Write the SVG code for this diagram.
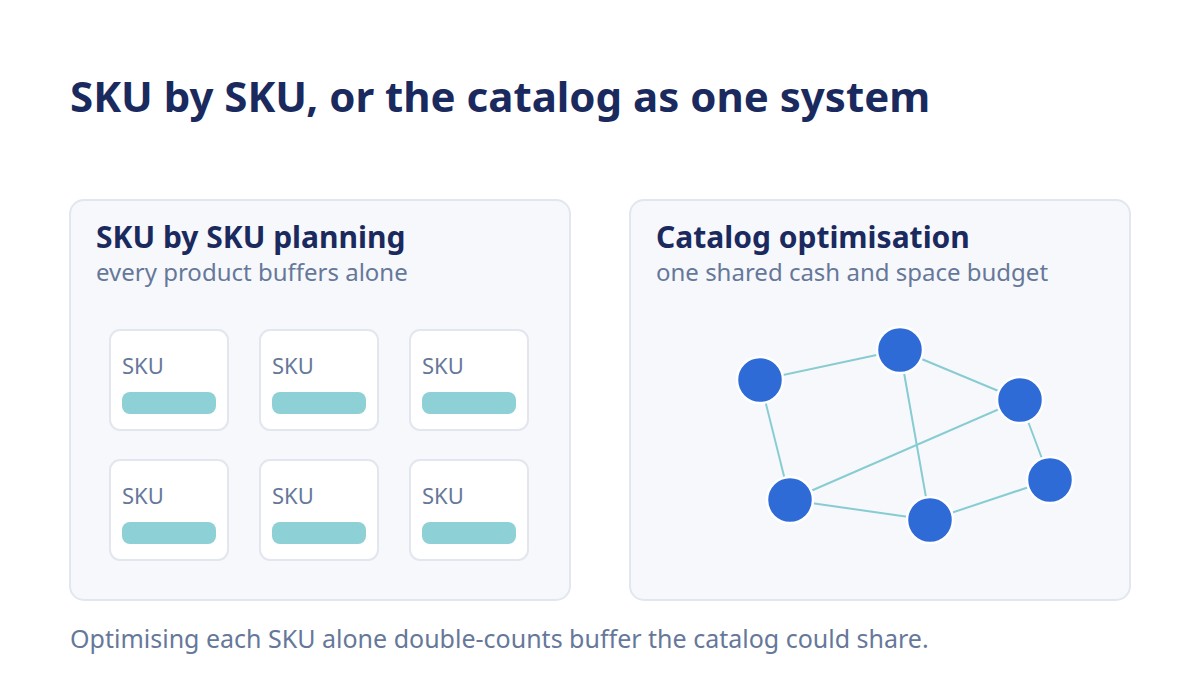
<svg xmlns="http://www.w3.org/2000/svg" width="1200" height="700" viewBox="0 0 1200 700">
<style>
.title{font-family:"Noto Sans","Open Sans",sans-serif;font-weight:700;font-size:42px;fill:#1b2a5e}
.ptitle{font-family:"Noto Sans","Open Sans",sans-serif;font-weight:700;font-size:30px;fill:#1b2a5e}
.sub{font-family:"Noto Sans","Open Sans",sans-serif;font-size:24px;fill:#66789a}
.foot{font-family:"Noto Sans","Open Sans",sans-serif;font-size:25px;fill:#66789a}
.sku{font-family:"Noto Sans","Open Sans",sans-serif;font-size:22px;fill:#66789a}
.panel{fill:#f7f8fc;stroke:#e2e6ef;stroke-width:2}
.card{fill:#ffffff;stroke:#e2e6ef;stroke-width:2}
.bar{fill:#8dd0d5}
.edge{stroke:#86ccd2;stroke-width:2;fill:none}
.node{fill:#2f6bd6;stroke:#ffffff;stroke-width:2.5}
</style>
<rect width="1200" height="700" fill="#ffffff"/>
<text class="title" x="70" y="112">SKU by SKU, or the catalog as one system</text>
<g id="panel-left">
<rect class="panel" x="70" y="200" width="500" height="400" rx="14"/>
<text class="ptitle" x="96" y="248">SKU by SKU planning</text>
<text class="sub" x="96" y="281">every product buffers alone</text>
</g>
<g id="sku-1"><rect class="card" x="110" y="330" width="118" height="100" rx="10"/><text class="sku" x="122" y="374">SKU</text><rect class="bar" x="122" y="392" width="94" height="22" rx="8"/></g>
<g id="sku-2"><rect class="card" x="260" y="330" width="118" height="100" rx="10"/><text class="sku" x="272" y="374">SKU</text><rect class="bar" x="272" y="392" width="94" height="22" rx="8"/></g>
<g id="sku-3"><rect class="card" x="410" y="330" width="118" height="100" rx="10"/><text class="sku" x="422" y="374">SKU</text><rect class="bar" x="422" y="392" width="94" height="22" rx="8"/></g>
<g id="sku-4"><rect class="card" x="110" y="460" width="118" height="100" rx="10"/><text class="sku" x="122" y="504">SKU</text><rect class="bar" x="122" y="522" width="94" height="22" rx="8"/></g>
<g id="sku-5"><rect class="card" x="260" y="460" width="118" height="100" rx="10"/><text class="sku" x="272" y="504">SKU</text><rect class="bar" x="272" y="522" width="94" height="22" rx="8"/></g>
<g id="sku-6"><rect class="card" x="410" y="460" width="118" height="100" rx="10"/><text class="sku" x="422" y="504">SKU</text><rect class="bar" x="422" y="522" width="94" height="22" rx="8"/></g>
<g id="panel-right">
<rect class="panel" x="630" y="200" width="500" height="400" rx="14"/>
<text class="ptitle" x="656" y="248">Catalog optimisation</text>
<text class="sub" x="656" y="281">one shared cash and space budget</text>
</g>
<g id="connectors">
<line class="edge" x1="760" y1="380" x2="900" y2="350"/>
<line class="edge" x1="900" y1="350" x2="1020" y2="400"/>
<line class="edge" x1="1020" y1="400" x2="1050" y2="480"/>
<line class="edge" x1="1050" y1="480" x2="930" y2="520"/>
<line class="edge" x1="790" y1="500" x2="930" y2="520"/>
<line class="edge" x1="760" y1="380" x2="790" y2="500"/>
<line class="edge" x1="900" y1="350" x2="930" y2="520"/>
<line class="edge" x1="790" y1="500" x2="1020" y2="400"/>
</g>
<g id="node-a"><circle class="node" cx="760" cy="380" r="23"/></g>
<g id="node-b"><circle class="node" cx="900" cy="350" r="23"/></g>
<g id="node-c"><circle class="node" cx="1020" cy="400" r="23"/></g>
<g id="node-d"><circle class="node" cx="1050" cy="480" r="23"/></g>
<g id="node-e"><circle class="node" cx="790" cy="500" r="23"/></g>
<g id="node-f"><circle class="node" cx="930" cy="520" r="23"/></g>
<text class="foot" x="70" y="648">Optimising each SKU alone double-counts buffer the catalog could share.</text>
</svg>
